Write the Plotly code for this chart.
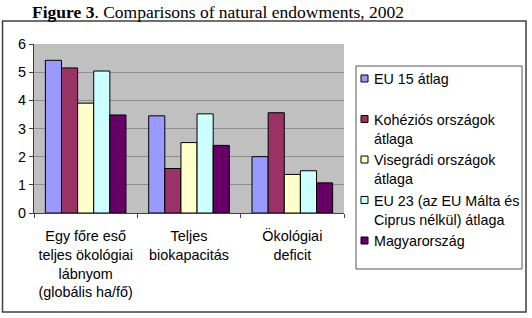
import plotly.graph_objects as go

# ---- data ----
categories = ["Egy főre eső<br>teljes ökológiai<br>lábnyom<br>(globális ha/fő)",
              "Teljes<br>biokapacitás",
              "Ökológiai<br>deficit"]
series_names = ["EU 15 átlag",
                "Kohéziós országok átlaga",
                "Visegrádi országok átlaga",
                "EU 23 (az EU Málta és Ciprus nélkül) átlaga",
                "Magyarország"]
legend_labels = ["EU 15 átlag",
                 "Kohéziós országok<br>átlaga",
                 "Visegrádi országok<br>átlaga",
                 "EU 23 (az EU Málta és<br>Ciprus nélkül) átlaga",
                 "Magyarország"]
eu15 = [5.42, 3.45, 2.00]
kohezios = [5.15, 1.58, 3.56]
visegradi = [3.90, 2.50, 1.37]
eu23 = [5.04, 3.52, 1.50]
magyar = [3.48, 2.40, 1.07]
series_values = [eu15, kohezios, visegradi, eu23, magyar]
colors = ["#9999FF", "#993366", "#FFFFCC", "#CCFFFF", "#660066"]
y_ticks = [0, 1, 2, 3, 4, 5, 6]
title_html = "<b>Figure 3</b>. Comparisons of natural endowments, 2002"

# ---- layout geometry (pixels) ----
W, H = 532, 318
L, R, T, B = 34, 344, 44, 213
FONT = "Liberation Sans, Arial, sans-serif"


def px(x):
    return (x - L) / (R - L)


def py(y):
    return (B - y) / (B - T)


fig = go.Figure()
for name, vals, col in zip(series_names, series_values, colors):
    fig.add_trace(go.Bar(x=categories, y=vals, name=name,
                         marker=dict(color=col, line=dict(color="#000000", width=1)),
                         showlegend=False))

shapes = []
annotations = []

# outer frame
shapes.append(dict(type="rect", xref="paper", yref="paper",
                   x0=px(2.5), x1=px(526), y0=py(312), y1=py(21),
                   line=dict(color="#404040", width=1.5), fillcolor="rgba(0,0,0,0)", layer="below"))
# legend box
shapes.append(dict(type="rect", xref="paper", yref="paper",
                   x0=px(356), x1=px(522), y0=py(269), y1=py(66),
                   line=dict(color="#555555", width=1), fillcolor="white"))

first_y = 78.5
step = 40.5
for i, (lab, col) in enumerate(zip(legend_labels, colors)):
    yc = first_y + i * step
    shapes.append(dict(type="rect", xref="paper", yref="paper",
                       x0=px(361), x1=px(368), y0=py(yc + 3.5), y1=py(yc - 3.5),
                       line=dict(color="#000000", width=1), fillcolor=col))
    annotations.append(dict(xref="paper", yref="paper", x=px(372), y=py(yc - 9.5),
                            xanchor="left", yanchor="top", align="left", text=lab, showarrow=False,
                            font=dict(family=FONT, size=14.3, color="#000000")))

annotations.append(dict(xref="paper", yref="paper", x=px(218), y=py(0),
                        xanchor="center", yanchor="top", text=title_html, showarrow=False,
                        font=dict(family="Liberation Serif, Times New Roman, serif", size=17.5, color="#000000")))

fig.update_layout(
    width=W, height=H,
    margin=dict(l=L, r=W - R, t=T, b=H - B, pad=0),
    paper_bgcolor="white",
    plot_bgcolor="#C0C0C0",
    barmode="group",
    bargap=0.22,
    bargroupgap=0,
    showlegend=False,
    font=dict(family=FONT, size=14.4, color="#000000"),
    shapes=shapes,
    annotations=annotations,
    xaxis=dict(tickson="boundaries", ticks="outside", ticklen=4, tickcolor="#404040",
               showline=True, linecolor="#404040", linewidth=1, showgrid=False,
               tickangle=0, automargin=False, ticklabelstandoff=10,
               tickfont=dict(family=FONT, size=14.4)),
    yaxis=dict(range=[0, 6], tickvals=y_ticks, ticks="outside", ticklen=4, tickcolor="#404040",
               showline=True, linecolor="#404040", linewidth=1, automargin=False,
               showgrid=True, gridcolor="#8f8f8f", gridwidth=1, zeroline=False,
               tickfont=dict(family=FONT, size=14.4)),
)

fig.write_html("out.html")
